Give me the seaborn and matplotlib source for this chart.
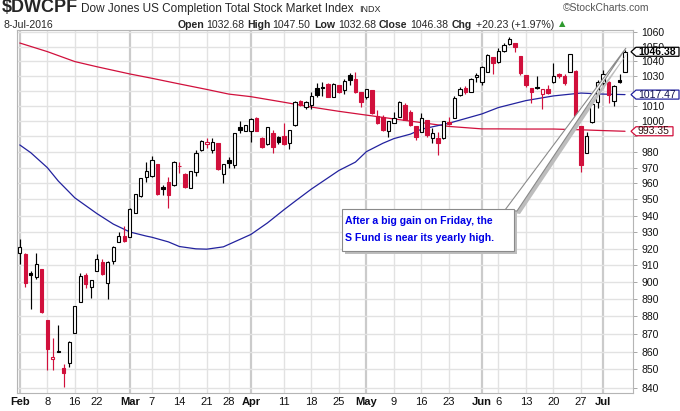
import numpy as np
import pandas as pd
import matplotlib
matplotlib.use("Agg")
import matplotlib.pyplot as plt
import seaborn as sns
from matplotlib.patches import Polygon
from matplotlib.ticker import FixedLocator, FixedFormatter, NullLocator, NullFormatter

# ---------------- data ----------------
all_days = pd.bdate_range("2016-02-01", "2016-07-08")
holidays = pd.to_datetime(["2016-02-15", "2016-03-25", "2016-05-30", "2016-07-04"])
dates = all_days[~all_days.isin(holidays)]

opens = [917.1, 916.7, 905.2, 903.2, 907.8, 878.0, 855.7, 860.5, 850.6, 853.5,
         870.3, 888.1, 904.2, 897.3, 906.6, 912.1, 899.3, 912.7, 924.1, 927.5,
         927.1, 941.9, 952.2, 963.9, 964.7, 972.3, 958.0, 960.7, 958.8, 971.2,
         966.2, 957.3, 967.4, 981.2, 985.0, 981.2, 985.8, 966.2, 974.9, 971.7,
         995.9, 993.5, 993.5, 1001.8, 989.2, 984.9, 992.4, 989.4, 990.3, 985.5,
         997.5, 1013.5, 1009.1, 1010.6, 1021.6, 1022.7, 1024.4, 1016.1, 1023.9, 1020.5,
         1030.6, 1027.9, 1019.0, 1015.7, 1020.5, 1003.3, 1002.9, 993.5, 998.9, 1002.9,
         1010.6, 1006.2, 996.8, 993.0, 1000.7, 988.7, 988.8, 988.8, 999.6, 1001.8,
         1016.9, 1022.2, 1018.9, 1029.0, 1026.1, 1032.9, 1042.5, 1039.2, 1047.1, 1051.5,
         1052.1, 1043.5, 1030.6, 1021.6, 1022.8, 1017.8, 1021.1, 1026.1, 1031.1, 1030.0,
         1032.9, 1033.5, 996.9, 979.6, 999.2, 1012.8, 1025.0, 1026.1, 1012.9, 1027.0,
         1032.68]
highs = [925.6, 917.0, 906.6, 917.5, 907.8, 878.0, 867.9, 875.0, 853.0, 866.0,
         886.2, 905.1, 905.6, 901.2, 916.7, 914.0, 912.5, 921.6, 930.2, 933.7,
         944.5, 953.5, 963.7, 973.8, 977.5, 972.3, 959.1, 963.9, 974.2, 973.8,
         966.4, 967.9, 981.2, 987.7, 988.7, 989.1, 985.8, 972.3, 976.6, 992.0,
         1000.0, 997.6, 1001.8, 1002.5, 989.5, 996.0, 994.2, 990.0, 999.0, 994.2,
         1013.5, 1013.9, 1013.5, 1019.4, 1025.3, 1026.0, 1024.9, 1025.0, 1023.9, 1027.6,
         1032.2, 1032.9, 1019.3, 1021.4, 1020.8, 1007.3, 1004.0, 1000.2, 1005.8, 1013.5,
         1011.7, 1007.3, 997.0, 1005.1, 1000.7, 995.2, 993.1, 1000.1, 1002.5, 1016.5,
         1022.6, 1023.1, 1028.4, 1032.2, 1036.7, 1044.6, 1043.0, 1048.8, 1052.1, 1056.8,
         1052.3, 1043.6, 1030.7, 1021.7, 1029.6, 1021.0, 1023.9, 1038.5, 1031.8, 1031.3,
         1045.0, 1033.8, 997.0, 993.1, 1011.5, 1027.3, 1034.1, 1026.3, 1023.9, 1031.6,
         1047.50]
lows = [910.5, 897.3, 884.1, 902.0, 882.1, 849.7, 849.7, 859.6, 840.5, 851.6,
        870.3, 888.1, 896.7, 890.9, 906.6, 904.4, 890.3, 910.5, 924.1, 924.0,
        927.1, 941.5, 951.8, 961.2, 964.3, 952.8, 952.8, 944.4, 958.4, 966.6,
        957.3, 956.9, 964.9, 980.4, 982.6, 979.1, 968.8, 960.5, 969.5, 969.5,
        992.0, 993.3, 986.6, 993.3, 982.8, 984.5, 979.1, 984.9, 984.6, 981.7,
        996.8, 1009.9, 1007.7, 1007.7, 1016.1, 1016.6, 1015.9, 1016.0, 1018.3, 1017.7,
        1023.9, 1018.3, 1009.5, 1014.3, 1004.9, 998.4, 993.5, 989.4, 998.9, 1002.9,
        1000.5, 996.8, 987.7, 993.0, 989.8, 985.8, 978.1, 988.3, 997.5, 1001.8,
        1016.4, 1018.2, 1018.9, 1026.1, 1023.9, 1032.9, 1031.1, 1038.5, 1046.4, 1051.0,
        1046.4, 1030.6, 1022.8, 1011.6, 1021.4, 1007.7, 1017.8, 1025.0, 1028.7, 1023.9,
        1032.5, 1002.0, 967.4, 979.4, 999.0, 1008.4, 1021.6, 1011.7, 1010.2, 1025.5,
        1032.68]
closes = [921.1, 899.7, 904.0, 910.5, 882.7, 861.7, 857.0, 859.6, 848.3, 865.2,
          885.9, 903.6, 898.9, 901.2, 914.0, 905.0, 911.7, 921.1, 927.5, 924.3,
          943.9, 953.2, 963.2, 967.8, 974.9, 953.4, 956.7, 953.0, 973.8, 970.8,
          958.0, 967.6, 979.1, 987.0, 986.3, 986.5, 969.0, 972.3, 973.2, 992.0,
          994.2, 997.5, 1001.4, 993.5, 983.0, 995.9, 983.4, 986.2, 984.9, 994.2,
          1012.8, 1010.6, 1012.8, 1016.8, 1017.2, 1022.2, 1016.1, 1024.6, 1019.0, 1026.8,
          1027.2, 1019.0, 1012.8, 1021.2, 1005.1, 998.6, 994.2, 1000.0, 1001.8, 1012.8,
          1000.7, 997.5, 989.8, 1001.8, 990.9, 992.4, 985.5, 1000.1, 998.1, 1014.9,
          1021.5, 1019.3, 1027.7, 1030.6, 1036.3, 1044.1, 1038.5, 1046.9, 1051.0, 1054.9,
          1049.4, 1032.2, 1023.9, 1019.4, 1021.9, 1020.9, 1018.8, 1030.2, 1029.6, 1025.0,
          1044.8, 1002.5, 971.7, 990.3, 1011.3, 1026.1, 1031.3, 1017.2, 1023.4, 1026.15,
          1046.38]

# 50-day SMA (blue) read at selected dates
sma50_dates = ["2016-02-01", "2016-02-03", "2016-02-08", "2016-02-10", "2016-02-12",
               "2016-02-16", "2016-02-22", "2016-02-25", "2016-03-01", "2016-03-04",
               "2016-03-07", "2016-03-10", "2016-03-14", "2016-03-17", "2016-03-21",
               "2016-03-24", "2016-03-28", "2016-04-01", "2016-04-06", "2016-04-11",
               "2016-04-13", "2016-04-18", "2016-04-21", "2016-04-25", "2016-04-28",
               "2016-05-02", "2016-05-05", "2016-05-09", "2016-05-12", "2016-05-16",
               "2016-05-23", "2016-06-01", "2016-06-06", "2016-06-13", "2016-06-20",
               "2016-06-27", "2016-07-01", "2016-07-08"]
sma50_vals = [984.5, 979.5, 970.0, 961.5, 954.5,
              951.0, 941.3, 934.8, 930.0, 927.5,
              926.8, 924.0, 921.2, 919.8, 919.6,
              921.0, 922.5, 928.5, 935.5, 943.6,
              948.8, 956.5, 963.5, 968.2, 973.5,
              980.2, 985.6, 988.6, 991.5, 994.7,
              998.6, 1004.7, 1008.9, 1013.5, 1016.6,
              1018.5, 1017.8, 1017.47]
# 200-day SMA (red) read at selected dates
sma200_dates = ["2016-02-01", "2016-02-08", "2016-02-16", "2016-02-22", "2016-03-01",
                "2016-03-07", "2016-03-14", "2016-03-21", "2016-03-28", "2016-04-01",
                "2016-04-11", "2016-04-18", "2016-04-25", "2016-05-02", "2016-05-09",
                "2016-05-16", "2016-05-23", "2016-06-01", "2016-06-06", "2016-06-13",
                "2016-06-20", "2016-06-27", "2016-07-01", "2016-07-08"]
sma200_vals = [1052.4, 1046.5, 1039.7, 1036.2, 1031.3, 1028.4, 1024.6, 1020.9, 1017.8, 1016.1,
               1012.4, 1009.2, 1006.4, 1003.9, 1001.4, 999.0, 996.5, 994.9, 994.9, 994.8,
               994.8, 994.3, 993.8, 993.35]

tick_dates = ["2016-02-01", "2016-02-08", "2016-02-16", "2016-02-22", "2016-03-01",
              "2016-03-07", "2016-03-14", "2016-03-21", "2016-03-28", "2016-04-01",
              "2016-04-11", "2016-04-18", "2016-04-25", "2016-05-02", "2016-05-09",
              "2016-05-16", "2016-05-23", "2016-06-01", "2016-06-06", "2016-06-13",
              "2016-06-20", "2016-06-27", "2016-07-01"]
tick_labels = ["Feb", "8", "16", "22", "Mar", "7", "14", "21", "28", "Apr", "11", "18",
               "25", "May", "9", "16", "23", "Jun", "6", "13", "20", "27", "Jul"]
month_labels = {"Feb", "Mar", "Apr", "May", "Jun", "Jul"}
y_ticks = list(range(840, 1070, 10))

symbol = "$DWCPF"
title = "Dow Jones US Completion Total Stock Market Index"
exchange = "INDX"
date_str = "8-Jul-2016"
note_lines = ["After a big gain on Friday, the", "S Fund is near its yearly high."]

# ---------------- style ----------------
sns.set_theme(style="white")
plt.rcParams['font.family'] = ['Liberation Sans', 'DejaVu Sans']

RED = "#d1103c"
BLUE = "#22229e"
W, H = 680, 411

def fpx(x, y):
    return (x / W, 1 - y / H)

fig = plt.figure(figsize=(6.8, 4.11), dpi=100)
left, right, top, bottom = 16.5, 633.0, 30.0, 393.0
ax = fig.add_axes([left / W, 1 - bottom / H, (right - left) / W, (bottom - top) / H])
ax.set_facecolor("white")

o = np.array(opens); h = np.array(highs); l = np.array(lows); c = np.array(closes)
x = np.arange(len(dates))
prev = np.r_[c[0], c[:-1]]
col = np.where(c >= prev, "black", RED)
hollow = c >= o
face = np.where(hollow, "white", col)

ax.set_yscale("log")
ax.set_xlim(-0.6, 111.45)
ax.set_ylim(837.0, 1061.4)

# grid
tick_pos = dates.get_indexer(pd.to_datetime(tick_dates))
for p, lab in zip(tick_pos, tick_labels):
    if lab in month_labels:
        ax.axvline(p, color="#cbcbcb", lw=1.6, zorder=1)
    else:
        ax.axvline(p, color="#e2e2e2", lw=1.0, zorder=1)
for yv in y_ticks:
    ax.axhline(yv, color="#e2e2e2", lw=1.0, zorder=1)

# moving averages
sns.lineplot(x=dates.get_indexer(pd.to_datetime(sma200_dates)), y=sma200_vals, ax=ax,
             color=RED, lw=0.9, zorder=2)
sns.lineplot(x=dates.get_indexer(pd.to_datetime(sma50_dates)), y=sma50_vals, ax=ax,
             color=BLUE, lw=0.9, zorder=2)

# candles
ax.vlines(x, l, h, colors=col, lw=0.85, zorder=3)
lo_b = np.minimum(o, c); hi_b = np.maximum(o, c)
ax.bar(x, hi_b - lo_b, bottom=lo_b, width=0.6, color=face, edgecolor=col,
       linewidth=0.8, zorder=4)

# axes formatting
ax.yaxis.tick_right()
ax.yaxis.set_major_locator(FixedLocator(y_ticks))
ax.yaxis.set_major_formatter(FixedFormatter([str(v) for v in y_ticks]))
ax.yaxis.set_minor_locator(NullLocator())
ax.yaxis.set_minor_formatter(NullFormatter())
ax.tick_params(axis="y", which="major", right=True, length=3, width=0.6, color="#999999",
               labelsize=7.5, pad=3, labelcolor="#111111")
ax.set_xticks(tick_pos)
ax.set_xticklabels(tick_labels)
ax.tick_params(axis="x", length=0, pad=3, labelsize=8, labelcolor="#111111")
for t in ax.get_xticklabels():
    if t.get_text() in month_labels:
        t.set_fontweight("bold")
for s in ax.spines.values():
    s.set_color("#b5b5b5")
    s.set_linewidth(0.8)
ax.set_xlabel(""); ax.set_ylabel("")

# ---------------- header ----------------
fig.text(*fpx(2, 8), symbol, fontsize=13, fontweight="bold", va="center", ha="left")
fig.text(*fpx(81, 9), title, fontsize=8.5, va="center", ha="left")
fig.text(*fpx(359, 9.5), exchange, fontsize=6.5, va="center", ha="left")
fig.text(*fpx(563, 8), "\u00a9StockCharts.com", fontsize=7.5, color="#555555",
         va="center", ha="left")
chg = c[-1] - c[-2]
pct = chg / c[-2] * 100
items = [(3, date_str, "normal"), (178, "Open", "bold"), (206, f"{o[-1]:.2f}", "normal"),
         (247, "High", "bold"), (272, f"{h[-1]:.2f}", "normal"),
         (314, "Low", "bold"), (338, f"{l[-1]:.2f}", "normal"),
         (379, "Close", "bold"), (410, f"{c[-1]:.2f}", "normal"),
         (452, "Chg", "bold"), (476, f"{chg:+.2f} ({pct:+.2f}%)", "normal")]
for xp, s, wgt in items:
    fig.text(*fpx(xp, 25), s, fontsize=7.6, fontweight=wgt, va="center", ha="left")
fig.text(*fpx(559, 24), "\u25b2", fontsize=6, color="#2e9a2e", va="center", ha="left",
         family=["DejaVu Sans"])

# ---------------- right-side value tags ----------------
tag_pix = []
def tag(value, edge, txtcolor, bold, right_edge=679):
    yd = ax.transData.transform((0, value))[1]
    ypx = H - yd
    tag_pix.append(ypx)
    pts = [(631, ypx), (636, ypx - 4.5), (right_edge, ypx - 4.5),
           (right_edge, ypx + 4.5), (636, ypx + 4.5)]
    poly = Polygon([fpx(*p) for p in pts], closed=True, transform=fig.transFigure,
                   facecolor="white", edgecolor=edge, lw=0.9, zorder=10)
    fig.add_artist(poly)
    fig.text(*fpx(638, ypx), f"{value:.2f}", fontsize=7.5,
             fontweight="bold" if bold else "normal", color=txtcolor,
             va="center", ha="left", zorder=11)

tag(c[-1], "black", "black", True)
tag(sma50_vals[-1], BLUE, "#101050", False)
tag(sma200_vals[-1], RED, "#301010", False, right_edge=673)

# tick labels hidden (almost) completely behind the tags
for t, v in zip(ax.get_yticklabels(), y_ticks):
    ypx = H - ax.transData.transform((0, v))[1]
    if any(abs(ypx - tp) < 5.2 for tp in tag_pix):
        t.set_visible(False)

# ---------------- annotation ----------------
def fig_poly(pts, **kw):
    p = Polygon([fpx(*q) for q in pts], closed=True, transform=fig.transFigure, **kw)
    fig.add_artist(p)

fig_poly([(508, 212), (629, 51), (520, 214)], facecolor="#bdbdbd", edgecolor="none", zorder=6)
fig_poly([(505, 210), (626, 48), (517, 211)], facecolor="white", edgecolor="#8a8a8a",
         lw=0.8, zorder=7)
bx0, by0, bx1, by1 = 341.7, 209.3, 514.3, 251.0
fig_poly([(bx0 + 3, by0 + 3), (bx1 + 3, by0 + 3), (bx1 + 3, by1 + 3), (bx0 + 3, by1 + 3)],
         facecolor="#bdbdbd", edgecolor="none", zorder=8)
fig_poly([(bx0, by0), (bx1, by0), (bx1, by1), (bx0, by1)], facecolor="white",
         edgecolor="#8a8a8a", lw=0.8, zorder=9)
fig.text(*fpx(345, 220.5), note_lines[0], fontsize=7.6, fontweight="bold", color="#0000e6",
         va="center", ha="left", zorder=10)
fig.text(*fpx(345, 237.5), note_lines[1], fontsize=7.6, fontweight="bold", color="#0000e6",
         va="center", ha="left", zorder=10)

fig.savefig("out.png", dpi=100)
